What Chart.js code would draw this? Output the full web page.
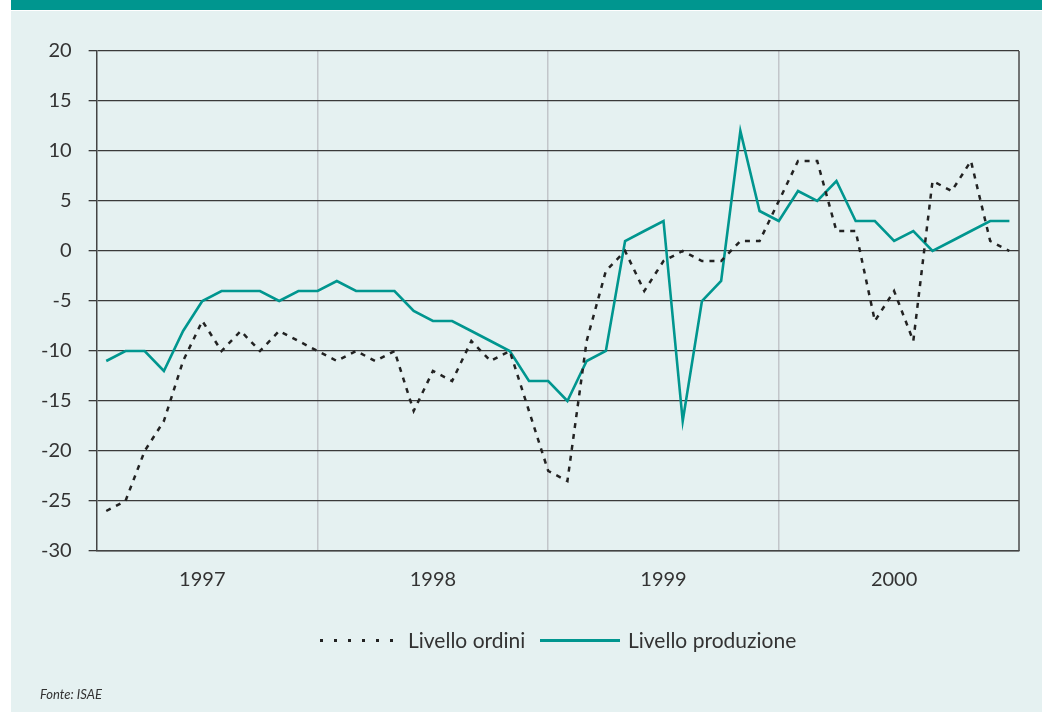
<!DOCTYPE html>
<html>
<head>
<meta charset="utf-8">
<script src="https://cdn.jsdelivr.net/npm/chart.js@4"></script>
<style>
  html, body { margin: 0; padding: 0; width: 1042px; height: 712px; background: #ffffff; overflow: hidden; }
  #panel { position: absolute; left: 11px; top: 0; width: 1031px; height: 712px; background: #e5f1f1; }
  #band { position: absolute; left: 11px; top: 0; width: 1031px; height: 10px; background: #00968f; border-bottom: 1px solid #ffffff; }
  #wrap { position: absolute; left: 0; top: 0; width: 1042px; height: 712px; }
  #legend { position: absolute; left: 0; top: 627px; width: 1042px; height: 28px; font-family: Lato, "DejaVu Sans", sans-serif; font-size: 21px; color: #333; }
  .item { position: absolute; top: 0; line-height: 26px; white-space: nowrap; }
  .swatch { position: absolute; top: 12px; width: 80px; height: 3px; }
  #fonte { position: absolute; left: 40px; top: 686px; font-family: Lato, "DejaVu Sans", sans-serif; font-style: italic; font-size: 13px; color: #333; }
</style>
</head>
<body>
<div id="panel"></div>
<div id="band"></div>
<div id="wrap"><canvas id="c" width="1042" height="712"></canvas></div>
<div id="legend"></div>
<div id="fonte">Fonte: ISAE</div>
<script>
// ---- data ----
const yearLabels = ['1997', '1998', '1999', '2000'];
const months = ['gen','feb','mar','apr','mag','giu','lug','ago','set','ott','nov','dic'];
const categories = [];
yearLabels.forEach(y => months.forEach(m => categories.push(m + ' ' + y)));

const seriesNames = ['Livello ordini', 'Livello produzione'];
const livelloOrdini = [
  -26, -25, -20, -17, -11, -7, -10, -8, -10, -8, -9, -10,
  -11, -10, -11, -10, -16, -12, -13, -9, -11, -10, -16, -22,
  -23, -9, -2, 0, -4, -1, 0, -1, -1, 1, 1, 5,
  9, 9, 2, 2, -7, -4, -9, 7, 6, 9, 1, 0
];
const livelloProduzione = [
  -11, -10, -10, -12, -8, -5, -4, -4, -4, -5, -4, -4,
  -3, -4, -4, -4, -6, -7, -7, -8, -9, -10, -13, -13,
  -15, -11, -10, 1, 2, 3, -17, -5, -3, 12, 4, 3,
  6, 5, 7, 3, 3, 1, 2, 0, 1, 2, 3, 3
];
const yTicks = [20, 15, 10, 5, 0, -5, -10, -15, -20, -25, -30];

const FONT = 'Lato, "DejaVu Sans", sans-serif';
const TEAL = '#00968f';
const DARK = '#222222';

// HTML legend (dotted swatch for the dashed series)
(function buildLegend() {
  const lg = document.getElementById('legend');
  const items = [
    { name: seriesNames[0], left: 320, bg: 'repeating-linear-gradient(to right, ' + DARK + ' 0 3px, transparent 3px 14px)' },
    { name: seriesNames[1], left: 540, bg: TEAL }
  ];
  items.forEach(it => {
    const sw = document.createElement('div');
    sw.className = 'swatch';
    sw.style.left = it.left + 'px';
    sw.style.background = it.bg;
    lg.appendChild(sw);
    const t = document.createElement('div');
    t.className = 'item';
    t.style.left = (it.left + 88) + 'px';
    t.textContent = it.name;
    lg.appendChild(t);
  });
})();

const rightFrame = {
  id: 'rightFrame',
  afterDraw(chart) {
    const a = chart.chartArea, ctx = chart.ctx;
    ctx.save();
    ctx.strokeStyle = '#4a4a4a';
    ctx.lineWidth = 1.5;
    ctx.beginPath();
    ctx.moveTo(a.right, a.top);
    ctx.lineTo(a.right, a.bottom);
    ctx.stroke();
    ctx.restore();
  }
};

new Chart(document.getElementById('c'), {
  type: 'line',
  data: {
    labels: categories,
    datasets: [
      {
        label: seriesNames[0],
        data: livelloOrdini,
        borderColor: DARK,
        backgroundColor: DARK,
        borderWidth: 2.5,
        borderDash: [5, 6],
        pointRadius: 0,
        tension: 0,
        fill: false
      },
      {
        label: seriesNames[1],
        data: livelloProduzione,
        borderColor: TEAL,
        backgroundColor: TEAL,
        borderWidth: 2.6,
        pointRadius: 0,
        tension: 0,
        fill: false
      }
    ]
  },
  options: {
    responsive: false,
    animation: false,
    layout: { padding: { left: 24, right: 23, top: 51, bottom: 103 } },
    scales: {
      x: {
        type: 'category',
        offset: true,
        grid: {
          offset: false,
          drawTicks: false,
          color: (c) => {
            const i = c.index;
            return (i === 11 || i === 23 || i === 35) ? '#c2c6ca' : 'rgba(0,0,0,0)';
          },
          lineWidth: 1.5
        },
        border: { color: '#444444', width: 1.5 },
        ticks: {
          autoSkip: false,
          maxRotation: 0,
          minRotation: 0,
          padding: 17,
          color: '#333333',
          font: { family: FONT, size: 20 },
          callback: function (value, index) {
            return index % 12 === 5 ? yearLabels[Math.floor(index / 12)] : '';
          }
        }
      },
      y: {
        min: -30,
        max: 20,
        afterBuildTicks: (scale) => { scale.ticks = yTicks.map(v => ({ value: v })); },
        grid: { color: '#3a3a3a', lineWidth: 1.3, tickLength: 8 },
        border: { color: '#444444', width: 1.5 },
        ticks: {
          padding: 17,
          color: '#333333',
          font: { family: FONT, size: 20 }
        }
      }
    },
    plugins: {
      legend: { display: false },
      tooltip: { enabled: false }
    }
  },
  plugins: [rightFrame]
});
</script>
</body>
</html>
